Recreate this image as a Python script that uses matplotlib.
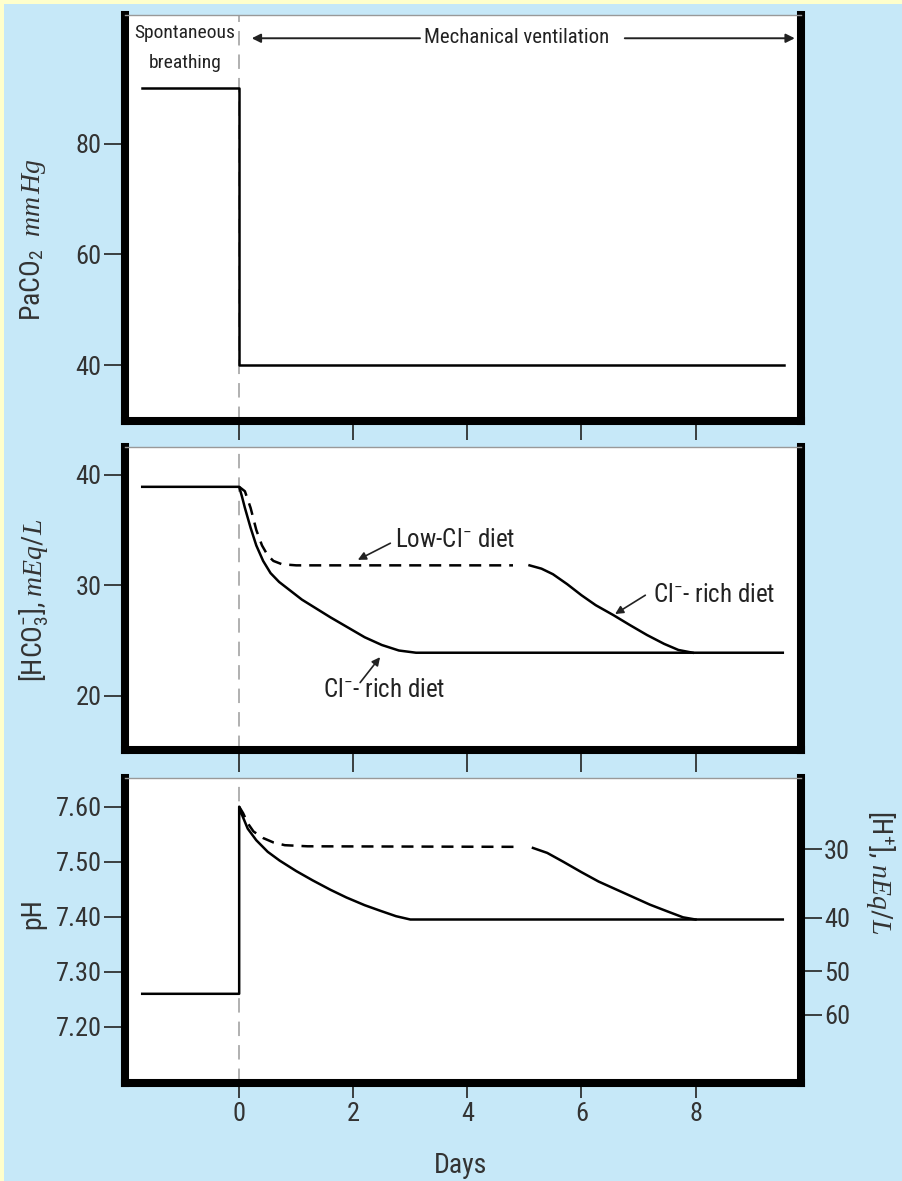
import matplotlib
matplotlib.use("Agg")
import matplotlib.pyplot as plt
from matplotlib import font_manager
from matplotlib.patches import Rectangle
from matplotlib.ticker import FormatStrFormatter
import numpy as np

# Pick a condensed face if there is one
_fonts = font_manager.fontManager.ttflist
_names = {f.name for f in _fonts}
NARROW, STRETCH = "Liberation Sans", "normal"
for n in ["Roboto Condensed", "Liberation Sans Narrow", "Open Sans Condensed",
          "Noto Sans Condensed", "DejaVu Sans Condensed"]:
    if n in _names:
        NARROW = n
        break
else:
    for f in _fonts:
        if f.name in ("DejaVu Sans", "Noto Sans", "Open Sans", "Roboto") and \
                str(f.stretch) in ("condensed", "semi-condensed", "extra-condensed") and f.style == "normal":
            NARROW, STRETCH = f.name, f.stretch
            break

plt.rcParams["font.family"] = [NARROW, "DejaVu Sans"]
plt.rcParams["font.stretch"] = STRETCH
plt.rcParams["mathtext.fontset"] = "custom"
plt.rcParams["mathtext.rm"] = NARROW
plt.rcParams["mathtext.it"] = "Liberation Serif:italic"
plt.rcParams["mathtext.bf"] = NARROW + ":bold"

# ---- data ----
day_ticks = [0, 2, 4, 6, 8]

# PaCO2, mmHg
paco2_days = [-1.7, 0, 0, 9.55]
paco2 = [90, 90, 40, 40]

# [HCO3-], mEq/L
hco3_rich_days = [-1.7, 0, 0.05, 0.1, 0.2, 0.3, 0.42, 0.55, 0.7, 0.9, 1.1, 1.35, 1.6,
                  1.9, 2.2, 2.5, 2.8, 3.1, 9.53]
hco3_rich = [38.9, 38.9, 38.0, 37.0, 35.2, 33.6, 32.2, 31.1, 30.3, 29.5, 28.7, 27.9, 27.1,
             26.2, 25.3, 24.6, 24.1, 23.9, 23.9]
hco3_low_days = [0, 0.1, 0.2, 0.3, 0.4, 0.5, 0.6, 0.75, 1.0, 4.8]
hco3_low = [38.9, 38.5, 37.0, 35.0, 33.6, 32.7, 32.2, 31.9, 31.8, 31.8]
hco3_switch_days = [5.09, 5.3, 5.5, 5.75, 6.0, 6.25, 6.56, 6.85, 7.15, 7.45, 7.7, 7.95]
hco3_switch = [31.8, 31.5, 31.0, 30.1, 29.1, 28.2, 27.3, 26.4, 25.5, 24.7, 24.15, 23.9]

# pH
ph_rich_days = [-1.7, 0, 0, 0.05, 0.15, 0.3, 0.5, 0.71, 1.0, 1.29, 1.6, 1.88, 2.2, 2.47,
                2.75, 3.0, 9.53]
ph_rich = [7.26, 7.26, 7.60, 7.585, 7.56, 7.539, 7.518, 7.502, 7.483, 7.466, 7.449, 7.435,
           7.421, 7.411, 7.401, 7.395, 7.395]
ph_low_days = [0, 0.07, 0.15, 0.25, 0.42, 0.6, 0.8, 1.2, 4.92]
ph_low = [7.60, 7.588, 7.570, 7.555, 7.543, 7.535, 7.530, 7.528, 7.527]
ph_switch_days = [5.15, 5.4, 5.68, 6.0, 6.3, 6.6, 6.9, 7.2, 7.5, 7.78, 8.0]
ph_switch = [7.525, 7.516, 7.500, 7.481, 7.464, 7.450, 7.436, 7.422, 7.410, 7.399, 7.395]

h_ticks = [30, 40, 50, 60]

# ---- styling ----
BLUE = "#c6e8f8"
YELLOW = "#ffffcc"
TXT = "#333333"
LW = 1.8
SPINE = 5.8

fig = plt.figure(figsize=(9.03, 11.81), dpi=100)
fig.patch.set_facecolor(YELLOW)
fig.patches.append(Rectangle((4 / 903, 0), 1, 1 - 4 / 1181, transform=fig.transFigure,
                             facecolor=BLUE, edgecolor="none", zorder=-10))

ax1 = fig.add_axes([0.1379, 0.6435, 0.7492, 0.3438])
ax2 = fig.add_axes([0.1379, 0.3649, 0.7492, 0.2566])
ax3 = fig.add_axes([0.1379, 0.0830, 0.7492, 0.2582])


def style(ax, xtick_len):
    ax.set_facecolor("white")
    ax.set_xlim(-2.01, 9.85)
    for side in ("left", "right", "bottom"):
        ax.spines[side].set_linewidth(SPINE)
        ax.spines[side].set_color("black")
    ax.spines["top"].set_linewidth(1)
    ax.spines["top"].set_color("#999999")
    ax.set_xticks(day_ticks)
    ax.tick_params(axis="x", direction="out", length=xtick_len, width=1.2,
                   color="#222222", labelsize=19, labelcolor=TXT, pad=3)
    ax.tick_params(axis="y", direction="out", length=15, width=1.2,
                   color="#222222", labelsize=19, labelcolor=TXT, pad=1.5)
    ax.axvline(0, color="#aaaaaa", lw=1.3, ls=(0, (8, 5)), zorder=1)


style(ax1, 14)
style(ax2, 16)
style(ax3, 11)
ax1.tick_params(axis="x", labelbottom=False)
ax2.tick_params(axis="x", labelbottom=False)

# panel 1
ax1.plot(paco2_days, paco2, color="black", lw=LW, zorder=3)
ax1.set_ylim(29.9, 103.2)
ax1.set_yticks([40, 60, 80])
ax1.set_ylabel(r"PaCO$_2$  $mm\,Hg$", fontsize=20, color=TXT, ha="center", va="center")
ax1.yaxis.set_label_coords(-0.135, 0.446)

ax1.text(-0.95, 99.9, "Spontaneous", fontsize=14, color="#222222", ha="center", va="center")
ax1.text(-0.95, 94.5, "breathing", fontsize=14, color="#222222", ha="center", va="center")
ax1.text(4.87, 99.2, "Mechanical ventilation", fontsize=15, color="#222222",
         ha="center", va="center")
arrow = dict(arrowstyle="-|>", lw=1.4, color="#222222", mutation_scale=13, shrinkA=0, shrinkB=0)
ax1.annotate("", xy=(0.22, 99.0), xytext=(3.17, 99.0), arrowprops=arrow)
ax1.annotate("", xy=(9.74, 99.0), xytext=(6.76, 99.0), arrowprops=arrow)

# panel 2
ax2.plot(hco3_rich_days, hco3_rich, color="black", lw=LW, zorder=3)
ax2.plot(hco3_low_days, hco3_low, color="black", lw=LW, ls=(0, (4.8, 3.2)), zorder=3)
ax2.plot(hco3_switch_days, hco3_switch, color="black", lw=LW, zorder=3)
ax2.set_ylim(15.1, 42.5)
ax2.set_yticks([20, 30, 40])
ax2.set_ylabel(r"[HCO$_3^{-}$], $mEq/L$", fontsize=20, color=TXT, ha="center", va="center")
ax2.yaxis.set_label_coords(-0.134, 0.495)

note = dict(fontsize=18, color="#222222", va="center", ha="left")
small_arrow = dict(arrowstyle="-|>", lw=1.2, color="#222222", mutation_scale=12,
                   shrinkA=0, shrinkB=0)
ax2.text(2.73, 34.1, r"Low-Cl$^{-}$ diet", **note)
ax2.annotate("", xy=(2.08, 32.3), xytext=(2.65, 33.8), arrowprops=small_arrow)
ax2.text(7.25, 29.1, r"Cl$^{-}$- rich diet", **note)
ax2.annotate("", xy=(6.59, 27.4), xytext=(7.12, 29.1), arrowprops=small_arrow)
ax2.text(1.47, 20.5, r"Cl$^{-}$- rich diet", **note)
ax2.annotate("", xy=(2.47, 23.5), xytext=(2.12, 21.2), arrowprops=small_arrow)

# panel 3
ax3.plot(ph_rich_days, ph_rich, color="black", lw=LW, zorder=3)
ax3.plot(ph_low_days, ph_low, color="black", lw=LW, ls=(0, (4.8, 3.2)), zorder=3)
ax3.plot(ph_switch_days, ph_switch, color="black", lw=LW, zorder=3)
ax3.set_ylim(7.098, 7.652)
ax3.set_yticks([7.2, 7.3, 7.4, 7.5, 7.6])
ax3.yaxis.set_major_formatter(FormatStrFormatter("%.2f"))
ax3.set_ylabel("pH", fontsize=20, color=TXT, ha="center", va="center")
ax3.yaxis.set_label_coords(-0.135, 0.557)
ax3.set_xlabel("Days", fontsize=20, color=TXT, ha="center", va="center")
ax3.xaxis.set_label_coords(0.496, -0.272)

sec = ax3.secondary_yaxis("right", functions=(lambda p: 10 ** (9 - p),
                                              lambda h: 9 - np.log10(h)))
sec.set_yticks(h_ticks)
sec.spines["right"].set_visible(False)
sec.tick_params(axis="y", direction="out", length=15, width=1.2, color="#222222",
                labelsize=19, labelcolor=TXT, pad=1.5)
sec.set_ylabel(r"[H$^{+}$], $nEq/L$", fontsize=20, color=TXT, rotation=270,
               ha="center", va="center")
sec.yaxis.set_label_coords(1.118, 0.69, transform=ax3.transAxes)

fig.savefig("out.png", dpi=100, facecolor=fig.get_facecolor())
